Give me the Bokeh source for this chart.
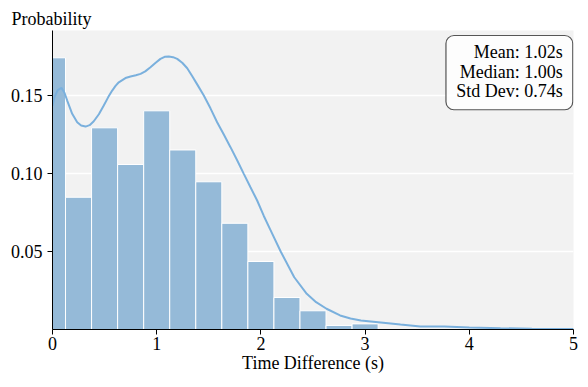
from bokeh.plotting import figure
from bokeh.models import Range1d, FixedTicker, Label, PrintfTickFormatter, BoxAnnotation
from bokeh.embed import file_html
from bokeh.resources import INLINE

# Histogram bins (centers, width 0.25 s) and probabilities
bin_centers = [0.0, 0.25, 0.5, 0.75, 1.0, 1.25, 1.5, 1.75, 2.0, 2.25, 2.5, 2.75, 3.0]
bin_probs = [0.1742, 0.0848, 0.1293, 0.1058, 0.1402, 0.1151, 0.0947,
             0.0681, 0.0436, 0.0205, 0.0120, 0.0026, 0.0036]
bin_width = 0.25

# KDE curve
kde_x = [0.0, 0.019, 0.05, 0.086, 0.115, 0.141, 0.189, 0.237, 0.275, 0.317, 0.356,
         0.396, 0.445, 0.492, 0.535, 0.573, 0.605, 0.636, 0.70, 0.749, 0.80, 0.845,
         0.89, 0.94, 0.99, 1.036, 1.076, 1.116, 1.157, 1.197, 1.245, 1.293, 1.34,
         1.39, 1.452, 1.516, 1.58, 1.644, 1.708, 1.772, 1.836, 1.90, 1.964, 2.028,
         2.09, 2.19, 2.32, 2.44, 2.53, 2.63, 2.76, 2.86, 2.96, 3.15, 3.34, 3.53,
         3.76, 4.0, 4.3, 4.6, 5.0]
kde_y = [0.1435, 0.1490, 0.1535, 0.1549, 0.1518, 0.1468, 0.1383, 0.1329, 0.1308,
         0.1301, 0.1310, 0.1335, 0.1380, 0.1436, 0.1490, 0.1532, 0.1562, 0.1585,
         0.1612, 0.1622, 0.1630, 0.1639, 0.1655, 0.1681, 0.1710, 0.1735, 0.1748,
         0.1750, 0.1746, 0.1735, 0.1710, 0.1675, 0.1625, 0.1570, 0.1500, 0.1418,
         0.1329, 0.1250, 0.1169, 0.1085, 0.0998, 0.0912, 0.0827, 0.0728, 0.0640,
         0.0500, 0.0335, 0.0229, 0.0175, 0.0133, 0.0090, 0.0070, 0.0058, 0.0045,
         0.0032, 0.0020, 0.0019, 0.0013, 0.0008, 0.0005, 0.0003]

y_ticks = [0.05, 0.10, 0.15]
x_ticks = [0, 1, 2, 3, 4, 5]
stats_lines = ["Mean: 1.02s", "Median: 1.00s", "Std Dev: 0.74s"]

FONT = "Liberation Serif"
FS = "18px"

p = figure(width=580, height=375, output_backend="svg", toolbar_location=None,
           x_range=Range1d(0, 5), y_range=Range1d(0, 0.1917),
           min_border_left=52, min_border_right=7, min_border_top=30,
           min_border_bottom=0)

p.background_fill_color = "#f2f2f2"
p.border_fill_color = "white"
p.outline_line_color = None

p.vbar(x=bin_centers, width=bin_width, top=bin_probs, bottom=0,
       fill_color="#95bad8", line_color="white", line_width=1)
p.line(kde_x, kde_y, line_color="#7ab0dd", line_width=2)

# title acting as y label
p.title.text = "Probability"
p.title.text_font = FONT
p.title.text_font_size = FS
p.title.text_font_style = "normal"
p.title.text_color = "black"
p.title.align = "left"
p.title.offset = -41
p.title.standoff = 4

for ax in (p.xaxis[0], p.yaxis[0]):
    ax.axis_line_color = "black"
    ax.axis_line_width = 1
    ax.major_tick_line_color = "black"
    ax.major_tick_out = 5
    ax.major_tick_in = 0
    ax.minor_tick_line_color = None
    ax.major_label_text_font = FONT
    ax.major_label_text_font_size = FS
    ax.major_label_text_color = "black"

p.xaxis.ticker = FixedTicker(ticks=x_ticks)
p.yaxis.ticker = FixedTicker(ticks=y_ticks)
p.yaxis.formatter = PrintfTickFormatter(format="%.2f")
p.xaxis.axis_label = "Time Difference (s)"
p.xaxis.axis_label_text_font = FONT
p.xaxis.axis_label_text_font_size = FS
p.xaxis.axis_label_text_font_style = "normal"
p.xaxis.axis_label_text_color = "black"
p.xaxis.axis_label_standoff = 0
p.xaxis.major_label_standoff = 2
p.yaxis.major_label_standoff = 5

p.xgrid.grid_line_color = None
p.ygrid.grid_line_color = "white"
p.ygrid.grid_line_width = 1.5

# stats box
box = BoxAnnotation(left=3.776, right=4.993, top=0.1885, bottom=0.1409,
                    fill_color="white", fill_alpha=0.85,
                    line_color="#555555", line_alpha=1.0, line_width=1.2,
                    border_radius=8)
p.add_layout(box)
for i, txt in enumerate(stats_lines):
    p.add_layout(Label(x=4.897, y=0.1777 - i * 0.01232, text=txt,
                       text_align="right", text_baseline="middle",
                       text_font=FONT, text_font_size=FS, text_color="black"))

open("out.html", "w").write(file_html(p, INLINE))
